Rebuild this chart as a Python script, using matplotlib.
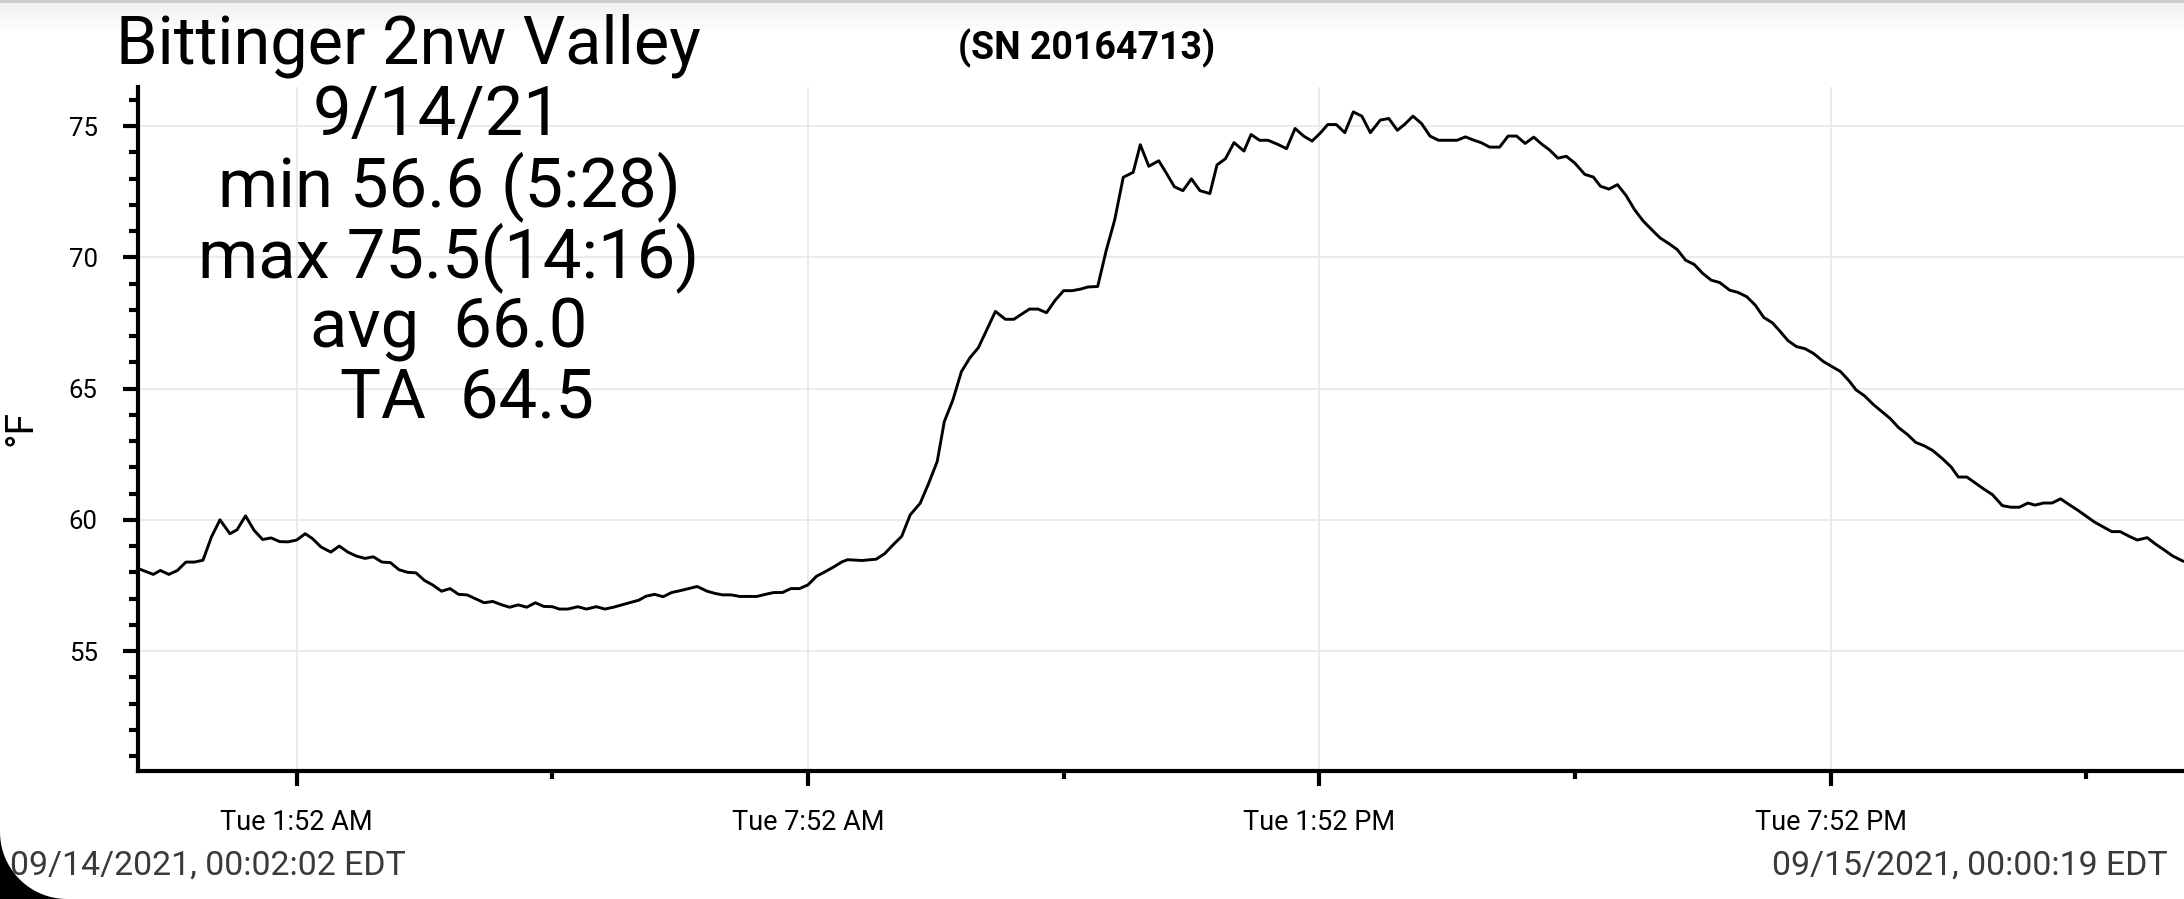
import numpy as np
import pandas as pd
import matplotlib
matplotlib.use("Agg")
import matplotlib.pyplot as plt
import matplotlib.dates as mdates
from matplotlib.ticker import FixedLocator, MultipleLocator, FuncFormatter
from matplotlib.patches import Polygon

plt.rcParams['font.family'] = ['Roboto', 'DejaVu Sans']

# logger readings: minutes after midnight on 9/14/21, temperature in deg F
minutos = [
    2, 11, 16, 22, 28, 34, 40, 46, 52, 58, 65, 70, 76, 82, 88, 94, 100, 106, 112, 118,
    123, 129, 136, 142, 148, 154, 160, 166, 172, 178, 184, 190, 196, 202, 208, 214, 220,
    226, 232, 238, 244, 250,
    257, 262, 268, 274, 280, 286, 292, 297, 303, 310, 316, 323, 329, 335, 341, 347, 353,
    358, 364, 370, 376, 382, 388, 394, 401, 407, 412, 418, 424, 430, 436, 442, 448, 454,
    460, 466, 472, 478, 484, 490, 496, 500, 510,
    520, 526, 532, 538, 544, 551, 557, 563, 568, 574, 580, 586, 592, 598, 604, 611, 617,
    622, 628, 634, 640, 646, 652, 658, 664, 669, 676, 682, 688, 694, 701, 706, 712, 719,
    724, 730, 736, 742, 748,
    755, 760, 766, 772, 779, 784, 790, 796, 803, 809, 815, 821, 827, 833, 838, 844, 850,
    856, 862, 868, 875, 881, 887, 892, 898, 904, 910, 916, 923, 929, 935, 941, 946, 952,
    959, 965, 971, 977, 983, 989,
    994, 1000, 1006, 1012, 1019, 1025, 1030, 1036, 1042, 1048, 1054, 1060, 1066, 1072,
    1078, 1084, 1090, 1096, 1102, 1108, 1114, 1121, 1127, 1133, 1139, 1145, 1151, 1156,
    1162, 1168, 1174, 1180, 1187, 1193, 1199, 1205, 1210, 1216, 1222, 1228,
    1234, 1240, 1246, 1252, 1258, 1264, 1271, 1277, 1282, 1288, 1294, 1300, 1306, 1313,
    1319, 1325, 1331, 1336, 1342, 1348, 1354, 1360, 1366, 1372, 1378, 1385, 1390, 1396,
    1402, 1408, 1415, 1421, 1427, 1433, 1440,
]
temperaturas = [
    58.11, 57.92, 58.07, 57.92, 58.07, 58.39, 58.39, 58.46, 59.35, 60.0, 59.47, 59.62,
    60.15, 59.6, 59.25, 59.31, 59.17, 59.16, 59.23, 59.47, 59.29, 58.97, 58.77, 59.0,
    58.77, 58.62, 58.53, 58.59, 58.39, 58.37, 58.1, 58.0, 57.98, 57.69, 57.51, 57.28,
    57.38, 57.16, 57.14, 56.99, 56.84, 56.89,
    56.75, 56.67, 56.76, 56.67, 56.84, 56.70, 56.69, 56.60, 56.6, 56.69, 56.6, 56.69,
    56.6, 56.67, 56.76, 56.85, 56.94, 57.09, 57.16, 57.07, 57.23, 57.30, 57.38, 57.46,
    57.28, 57.19, 57.14, 57.14, 57.08, 57.08, 57.08, 57.16, 57.23, 57.23, 57.38, 57.38,
    57.52, 57.85, 58.02, 58.2, 58.40, 58.48, 58.45,
    58.50, 58.71, 59.05, 59.37, 60.19, 60.63, 61.39, 62.22, 63.74, 64.56, 65.64, 66.17,
    66.56, 67.25, 67.94, 67.64, 67.64, 67.82, 68.03, 68.03, 67.89, 68.36, 68.73, 68.73,
    68.79, 68.87, 68.89, 70.26, 71.43, 73.05, 73.24, 74.29, 73.47, 73.68, 73.24, 72.69,
    72.54, 72.99, 72.54,
    72.43, 73.52, 73.76, 74.37, 74.05, 74.68, 74.46, 74.46, 74.30, 74.14, 74.91, 74.62,
    74.43, 74.75, 75.06, 75.06, 74.75, 75.54, 75.38, 74.75, 75.23, 75.29, 74.84, 75.06,
    75.38, 75.10, 74.62, 74.46, 74.46, 74.46, 74.59, 74.46, 74.37, 74.20, 74.20, 74.62,
    74.62, 74.34, 74.58, 74.30,
    74.10, 73.78, 73.85, 73.59, 73.16, 73.06, 72.71, 72.60, 72.77, 72.36, 71.82, 71.39,
    71.06, 70.74, 70.53, 70.30, 69.89, 69.73, 69.39, 69.13, 69.04, 68.75, 68.66, 68.50,
    68.18, 67.71, 67.51, 67.21, 66.83, 66.60, 66.52, 66.34, 66.03, 65.84, 65.65, 65.30,
    64.95, 64.72, 64.40, 64.13,
    63.86, 63.51, 63.26, 62.95, 62.82, 62.64, 62.32, 62.01, 61.63, 61.63, 61.40, 61.17,
    60.96, 60.54, 60.48, 60.48, 60.64, 60.56, 60.64, 60.64, 60.80, 60.58, 60.37, 60.14,
    59.91, 59.70, 59.55, 59.55, 59.38, 59.23, 59.32, 59.07, 58.85, 58.62, 58.43,
]

titulo = "Bittinger 2nw Valley"
serie = "(SN 20164713)"
resumen = ["9/14/21", "min 56.6 (5:28)", "max 75.5(14:16)", "avg  66.0", "TA  64.5"]
inicio_txt = "09/14/2021, 00:02:02 EDT"
fin_txt = "09/15/2021, 00:00:19 EDT"
ticks_mayores = ["01:52", "07:52", "13:52", "19:52"]
ticks_menores = ["04:52", "10:52", "16:52", "22:52"]
ticks_y = [55, 60, 65, 70, 75]

W, H = 2184, 899
fx = lambda px: px / W
fy = lambda py: 1 - py / H

dia = pd.Timestamp("2021-09-14")
tiempos = (dia + pd.to_timedelta(minutos, unit="min")).to_pydatetime()

fig = plt.figure(figsize=(W / 100, H / 100), dpi=100)
fig.patch.set_facecolor("white")

# sombra gris arriba (barra de la app)
sombra = fig.add_axes([0, fy(36), 1, 36 / H])
grad = np.concatenate([np.full(3, 0.80), np.linspace(0.90, 1.0, 33) ** 0.6])
sombra.imshow(grad[:, None], cmap="gray", vmin=0, vmax=1, aspect="auto")
sombra.axis("off")

ax = fig.add_axes([fx(138), fy(771), fx(2184) - fx(138), fy(87) - fy(771)])
ax.plot(tiempos, temperaturas, color="black", lw=2.1, zorder=3)

ax.set_xlim(dia + pd.Timedelta(seconds=16), dia + pd.Timedelta(minutes=1440, seconds=54))
ax.set_ylim(50.43, 76.49)

def hora(s):
    return mdates.date2num(dia + pd.Timedelta(hours=int(s[:2]), minutes=int(s[3:])))

def etiqueta(v, pos):
    d = mdates.num2date(v)
    return f"{d:%a} {d.hour % 12 or 12}:{d:%M} {d:%p}"

ax.xaxis.set_major_locator(FixedLocator([hora(s) for s in ticks_mayores]))
ax.xaxis.set_minor_locator(FixedLocator([hora(s) for s in ticks_menores]))
ax.xaxis.set_major_formatter(FuncFormatter(etiqueta))
ax.yaxis.set_major_locator(FixedLocator(ticks_y))
ax.yaxis.set_minor_locator(MultipleLocator(1))

ax.grid(True, which="major", color="#e9e9e9", lw=1.3, zorder=0)
for lado in ["top", "right"]:
    ax.spines[lado].set_visible(False)
for lado in ["left", "bottom"]:
    ax.spines[lado].set_linewidth(3)

ax.tick_params(axis="x", which="major", length=11, width=3, labelsize=19.5, pad=16)
ax.tick_params(axis="x", which="minor", length=5.5, width=3)
ax.tick_params(axis="y", which="major", length=11, width=3, labelsize=18.5, pad=18)
ax.tick_params(axis="y", which="minor", length=6.5, width=3)

fig.text(fx(21), fy(428), "°F", fontsize=28, rotation=90, ha="center", va="center")

fig.text(fx(116), fy(63.5), titulo, fontsize=48, ha="left", va="baseline")
fig.text(fx(1087), fy(59.5), serie, fontsize=27, fontweight="bold", ha="center", va="baseline")

centros = [438, 449, 449, 449, 467]
bases = [135, 206, 277, 347, 417]
for linea, cx, by in zip(resumen, centros, bases):
    fig.text(fx(cx), fy(by), linea, fontsize=49.5, ha="center", va="baseline")

fig.text(fx(10), fy(875), inicio_txt, fontsize=24.4, color="#3a3a3a", ha="left", va="baseline")
fig.text(fx(2168), fy(875), fin_txt, fontsize=24.4, color="#3a3a3a", ha="right", va="baseline")

# esquina negra de la captura
ang = np.linspace(np.pi, np.pi / 2, 30)
arco = [(fx(67 + 67 * np.cos(a)), fy(832 + 67 * np.sin(a))) for a in ang]
esquina = Polygon(arco + [(0, 0)], closed=True, transform=fig.transFigure,
                  facecolor="black", edgecolor="none", zorder=10)
fig.patches.append(esquina)

fig.savefig("out.png", dpi=100)
